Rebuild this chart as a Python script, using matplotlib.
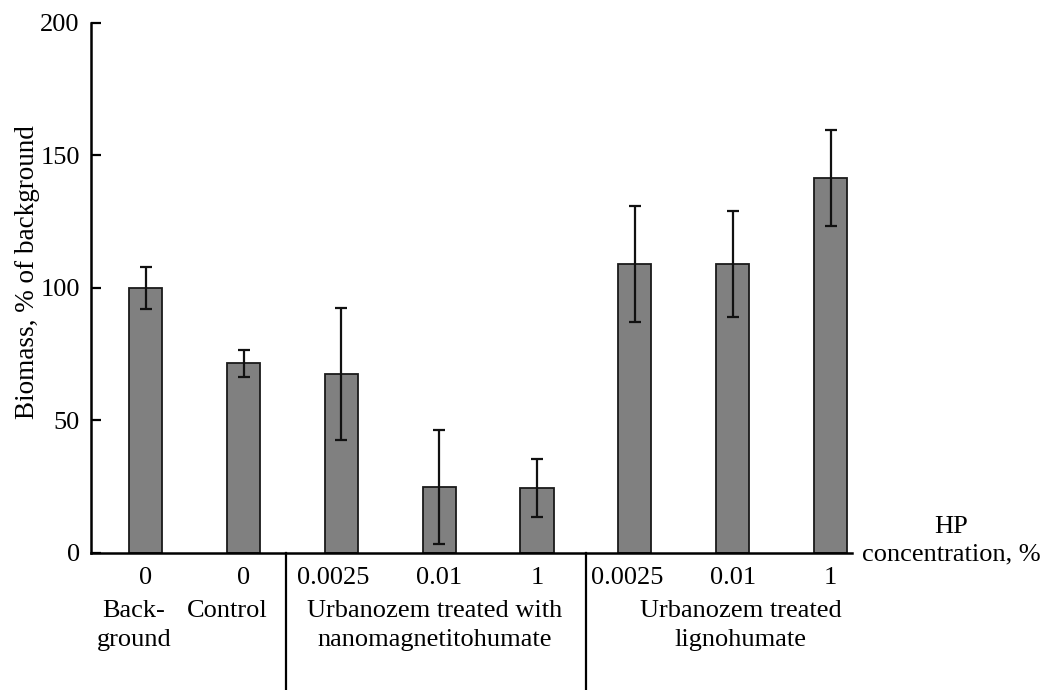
import matplotlib
matplotlib.use("Agg")
import matplotlib.pyplot as plt
import matplotlib.transforms as mtransforms
import numpy as np

plt.rcParams['font.family'] = ['Liberation Serif', 'DejaVu Serif']

# data
conc = ['0', '0', '0.0025', '0.01', '1', '0.0025', '0.01', '1']
biomass = [100, 71.5, 67.5, 25, 24.5, 109, 109, 141.5]
err = [8, 5.2, 25, 21.5, 11, 22, 20, 18]

fig = plt.figure(figsize=(10.48, 6.9), dpi=100)
ax = fig.add_axes([0.0868, 0.1986, 0.7262, 0.7681])

x = np.arange(len(conc))
ax.bar(x, biomass, width=0.34, color='#808080', edgecolor='#1a1a1a', linewidth=1.3)
ax.errorbar(x, biomass, yerr=err, fmt='none', ecolor='#111111', elinewidth=1.6,
            capsize=4.5, capthick=1.6)

fs = 19
ax.set_xlim(-0.56, 7.22)
ax.set_ylim(0, 200)
ax.set_yticks([0, 50, 100, 150, 200])
ax.set_xticks([])
ax.tick_params(axis='y', direction='in', length=7, width=1.6, labelsize=fs, pad=8)
for s in ['top', 'right']:
    ax.spines[s].set_visible(False)
for s in ['left', 'bottom']:
    ax.spines[s].set_linewidth(1.8)

ax.set_ylabel('Biomass, % of background', fontsize=19.5)
ax.yaxis.set_label_coords(-0.067, 0.53)

trans = mtransforms.blended_transform_factory(ax.transData, ax.transAxes)
for xi, c in zip(x, conc):
    ax.text(xi - 0.08 * (c == '0.0025'), -0.027, c, transform=trans, ha='center',
            va='top', fontsize=fs)

ax.text(-0.12, -0.088, 'Back-\nground', transform=trans, ha='center', va='top',
        fontsize=fs, linespacing=1.45)
ax.text(0.83, -0.088, 'Control', transform=trans, ha='center', va='top', fontsize=fs)
ax.text(2.95, -0.088, 'Urbanozem treated with\nnanomagnetitohumate', transform=trans,
        ha='center', va='top', fontsize=fs, linespacing=1.45)
ax.text(6.08, -0.088, 'Urbanozem treated\nlignohumate', transform=trans,
        ha='center', va='top', fontsize=fs, linespacing=1.45)

# group separators below the axis
for sx in [1.43, 4.5]:
    ax.plot([sx, sx], [0, -0.26], transform=trans, color='black', lw=1.6, clip_on=False)

ax.text(1.13, 0.0226, 'HP\nconcentration, %', transform=ax.transAxes, ha='center',
        va='center', fontsize=fs, linespacing=1.3, multialignment='center')

fig.savefig('out.png', dpi=100)
